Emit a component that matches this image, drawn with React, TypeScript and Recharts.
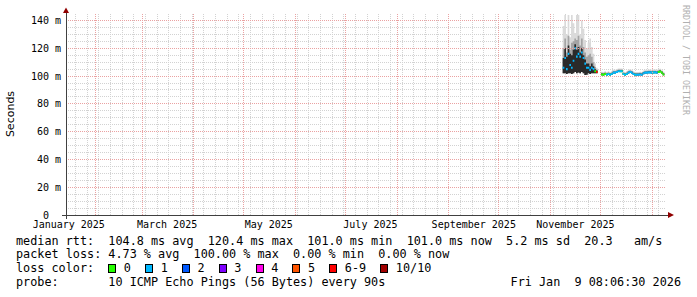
import React from "react";
import { ComposedChart, Area, XAxis, YAxis, CartesianGrid, ReferenceLine } from "recharts";

// x values are days since the start of the 360 day window (ends Fri Jan 9 08:06:30 2026)
const START = Date.UTC(2025, 0, 14, 8, 6, 30);
const DAY_MS = 86400000;
const dayOf = (y: number, m: number, d: number) => (Date.UTC(y, m, d) - START) / DAY_MS;

const monthLabels = ["January 2025", "March 2025", "May 2025", "July 2025", "September 2025", "November 2025"];
const monthLabelDates: number[][] = [[2025, 0, 16], [2025, 2, 16], [2025, 4, 16], [2025, 6, 16], [2025, 8, 16], [2025, 10, 16]];
const monthStartDates: number[][] = [
  [2025, 1, 1], [2025, 2, 1], [2025, 3, 1], [2025, 4, 1], [2025, 5, 1], [2025, 6, 1],
  [2025, 7, 1], [2025, 8, 1], [2025, 9, 1], [2025, 10, 1], [2025, 11, 1], [2026, 0, 1],
];
const yTicks = [0, 20, 40, 60, 80, 100, 120, 140];

const days = [
  298, 299, 300, 301, 302, 303, 304, 305, 306, 307, 308, 309, 310, 311, 312, 313, 314, 315, 316, 317, 318, 319,
  320,
  321, 322, 323, 324, 325, 326, 327, 328, 329, 330, 331, 332, 333, 334, 335, 336, 337, 338, 339, 340,
  341, 342, 343, 344, 345, 346, 347, 348, 349, 350, 351, 352, 353, 354, 355, 356, 357, 358, 359,
];

// median rtt in ms
const median = [
  106, 113, 105, 116, 108, 106, 111, 120, 114, 116, 114, 117, 113, 109, 106, 106, 104.5, 106, 105, 103.5, 103, 102.5,
  null,
  101.2, 101, 101.5, 101, 101.5, 101, 101.5, 102.5, 102.5, 103, 103.5, 103.5, 103.5, 101.5, 101, 101.5, 102.5, 103, 102.5, 101.5,
  101, 101, 101, 101.2, 101, 102, 102.5, 102.5, 102.7, 102.7, 102.5, 102.7, 102.7, 102.5, 103, 103.3, 102.5, 101.2, 101,
];

// lost pings out of 10
const loss = [
  1, 1, 1, 1, 1, 1, 1, 1, 1, 1, 1, 1, 1, 1, 1, 1, 1, 1, 1, 0, 7, 0,
  null,
  0, 0, 0, 1, 0, 1, 0, 1, 1, 1, 1, 0, 1, 0, 1, 0, 1, 1, 1, 1,
  0, 1, 1, 1, 1, 1, 1, 1, 1, 1, 1, 0, 1, 1, 0, 0, 0, 0, 0,
];

// smoke: lowest ping, inner (dark) band top, middle band top, highest ping
const smokeMin = [
  102, 102, 101.5, 102, 102, 101.5, 102, 103, 102, 102.5, 102, 103, 102, 100.8, 101, 102, 101.5, 102, 102, 102, 102, 101.8,
  null,
  100.6, 100.4, 100.9, 100.4, 100.9, 100.4, 100.9, 101.9, 101.9, 102.4, 102.9, 102.9, 102.9, 100.9, 100.4, 100.9, 101.9, 102.4, 101.9, 100.9,
  100.4, 100.4, 100.4, 100.6, 100.4, 101.4, 101.9, 101.9, 102.1, 102.1, 101.9, 102.1, 102.1, 101.9, 102.4, 102.7, 101.9, 100.6, 100.4,
];
const smokeDark = [
  113, 120, 114, 122, 116, 115, 119, 123, 119, 121, 117, 120, 115, 112, 109, 109, 107, 109, 107, 105, 104, 103.2,
  null,
  101.9, 101.7, 102.2, 101.7, 102.2, 101.7, 102.2, 103.2, 103.2, 103.7, 104.2, 104.2, 104.2, 102.2, 101.7, 102.2, 103.2, 103.7, 103.2, 102.2,
  101.7, 101.7, 101.7, 101.9, 101.7, 102.7, 103.2, 103.2, 103.4, 103.4, 103.2, 103.4, 103.4, 103.2, 103.7, 104, 103.2, 101.9, 101.7,
];
const smokeMid = [
  120, 127, 117, 129, 119, 124, 125, 127, 126, 129, 122, 127, 121, 117, 114, 115, 116, 114, 110, 106.5, 104.8, 103.6,
  null,
  102.4, 102.2, 102.7, 102.2, 102.7, 102.2, 102.7, 103.7, 103.7, 104.2, 104.7, 104.7, 104.7, 102.7, 102.2, 102.7, 103.7, 104.2, 103.7, 102.7,
  102.2, 102.2, 102.2, 102.4, 102.2, 103.2, 103.7, 103.7, 103.9, 103.9, 103.7, 103.9, 103.9, 103.7, 104.2, 104.5, 103.7, 102.4, 102.2,
];
const smokeMax = [
  136, 144, 130, 144, 128, 144, 138, 131, 144, 144, 130, 140, 134, 126, 120, 124, 127, 121, 116, 109, 106, 104.2,
  null,
  103.2, 103, 103.5, 103, 103.5, 103, 103.5, 104.5, 104.5, 105, 105.5, 105.5, 105.5, 103.5, 103, 103.5, 104.5, 105, 104.5, 103.5,
  103, 103, 103, 103.2, 103, 104, 104.5, 104.5, 104.7, 104.7, 104.5, 104.7, 104.7, 104.5, 105, 105.3, 104.5, 103.2, 103,
];

const lossLabels = ["0", "1", "2", "3", "4", "5", "6-9", "10/10"];
const lossColors = ["#26ff00", "#00b8ff", "#0059ff", "#7e00ff", "#ff00ea", "#ff5500", "#ff0000", "#a10000"];

const statsRtt = "median rtt:  104.8 ms avg  120.4 ms max  101.0 ms min  101.0 ms now  5.2 ms sd  20.3   am/s";
const statsLoss = "packet loss: 4.73 % avg  100.00 % max  0.00 % min  0.00 % now";
const probeText = "probe:       10 ICMP Echo Pings (56 Bytes) every 90s";
const dateText = "Fri Jan  9 08:06:30 2026";

// half thickness of the median marker, in ms
const MEDIAN_HALF = 0.75;

const colorIndex = (l: number | null) => (l == null ? -1 : l <= 5 ? l : l < 10 ? 6 : 7);

const labelDays = monthLabelDates.map(([y, m, d]) => dayOf(y, m, d));
const monthStarts = monthStartDates.map(([y, m, d]) => dayOf(y, m, d));
const weekLines: number[] = [];
for (let w = dayOf(2025, 0, 20); w < 360; w += 7) weekLines.push(w);
const yMinor: number[] = [];
for (let v = 5; v < 145; v += 5) if (v % 20 !== 0) yMinor.push(v);

const data = days.map((day, i) => {
  const row: any = { day };
  const lo = smokeMin[i];
  row.light = lo == null ? null : [lo, smokeMax[i]];
  row.mid = lo == null ? null : [lo, smokeMid[i]];
  row.dark = lo == null ? null : [lo, smokeDark[i]];
  const m = median[i];
  lossColors.forEach((_, k) => {
    const own = colorIndex(loss[i]) === k;
    const prev = i > 0 && colorIndex(loss[i - 1]) === k;
    row[`c${k}`] = m != null && (own || prev) ? [m - MEDIAN_HALF, m + MEDIAN_HALF] : null;
  });
  return row;
});

const MONO = '"DejaVu Sans Mono", monospace';
const MINOR = "#d2d2d2";
const MAJOR = "#eaa2a2";
const legendStyle: React.CSSProperties = {
  position: "absolute",
  fontFamily: MONO,
  fontSize: 11.8,
  lineHeight: "13.7px",
  whiteSpace: "pre",
  color: "#000",
};

export default function App() {
  return (
    <div style={{ position: "absolute", left: 0, top: 0, width: 697, height: 297, background: "#fff", overflow: "hidden" }}>
      <style>{`.recharts-cartesian-grid line, .recharts-reference-line line, .axis-deco line { shape-rendering: crispEdges; }`}</style>
      <ComposedChart width={697} height={297} data={data} margin={{ top: 14, right: 31, bottom: 62, left: 0 }}>
        <CartesianGrid verticalValues={weekLines} horizontalValues={yMinor} stroke={MINOR} strokeDasharray="1 1" />
        {monthStarts.map((d) => (
          <ReferenceLine key={`mx${d}`} x={d} stroke={MAJOR} strokeDasharray="1 1" />
        ))}
        {yTicks
          .filter((v) => v > 0)
          .map((v) => (
            <ReferenceLine key={`my${v}`} y={v} stroke={MAJOR} strokeDasharray="1 1" />
          ))}
        <XAxis
          type="number"
          dataKey="day"
          domain={[0, 360]}
          ticks={labelDays}
          interval={0}
          tickFormatter={(_v: number, i: number) => monthLabels[i]}
          height={20}
          tickLine={false}
          tickSize={0}
          tickMargin={6}
          axisLine={false}
          tick={{ fontFamily: MONO, fontSize: 10, fill: "#000" }}
        />
        <YAxis
          type="number"
          domain={[0, 144.7]}
          ticks={yTicks}
          interval={0}
          tickFormatter={(v: number) => (v === 0 ? "0\u00a0\u00a0" : `${v} m`)}
          width={66}
          tickLine={false}
          tickSize={0}
          tickMargin={5}
          axisLine={false}
          tick={{ fontFamily: MONO, fontSize: 10, fill: "#000" }}
        />
        <Area type="stepAfter" dataKey="light" stroke="none" fill="#dadada" fillOpacity={1} isAnimationActive={false} />
        <Area type="stepAfter" dataKey="mid" stroke="none" fill="#a4a4a4" fillOpacity={1} isAnimationActive={false} />
        <Area type="stepAfter" dataKey="dark" stroke="none" fill="#2a2a2a" fillOpacity={1} isAnimationActive={false} />
        {/* median drawn as a thin band per loss colour, like smokeping's stacked area */}
        {lossColors.map((c, k) => (
          <Area
            key={k}
            type="stepAfter"
            dataKey={`c${k}`}
            stroke="none"
            fill={c}
            fillOpacity={1}
            activeDot={false}
            isAnimationActive={false}
          />
        ))}
      </ComposedChart>

      <svg className="axis-deco" width={697} height={297} style={{ position: "absolute", left: 0, top: 0, pointerEvents: "none" }}>
        <line x1={62} y1={215} x2={668} y2={215} stroke="#404040" />
        <line x1={66} y1={219} x2={66} y2={10} stroke="#404040" />
        <polygon points="63,13 69,13 66,7.5" fill="#900000" />
        <polygon points="668,212 668,218 674,215" fill="#900000" />
        <text
          x={10.5}
          y={114}
          transform="rotate(-90 10.5 114)"
          textAnchor="middle"
          dominantBaseline="central"
          fontFamily='"DejaVu Sans", sans-serif'
          fontSize={11}
          fill="#000"
        >
          Seconds
        </text>
        <text
          x={686}
          y={60}
          transform="rotate(90 686 60)"
          textAnchor="middle"
          dominantBaseline="central"
          fontFamily={MONO}
          fontSize={8.3}
          fill="#b0b0b0"
        >
          RRDTOOL / TOBI OETIKER
        </text>
      </svg>

      <div style={{ ...legendStyle, left: 16, top: 234.5 }}>
        <div>{statsRtt}</div>
        <div>{statsLoss}</div>
        <div>
          {"loss color:  "}
          {lossLabels.map((l, k) => (
            <span key={l}>
              <span
                style={{
                  display: "inline-block",
                  width: 8,
                  height: 9,
                  boxSizing: "border-box",
                  border: "1px solid #000",
                  background: lossColors[k],
                  verticalAlign: -1,
                  marginRight: 7.5,
                }}
              />
              {l}
              {k < lossLabels.length - 1 ? "  " : ""}
            </span>
          ))}
        </div>
        <div>{probeText}</div>
      </div>
      <div style={{ ...legendStyle, right: 16, top: 234.5 + 3 * 13.7 }}>{dateText}</div>
    </div>
  );
}
